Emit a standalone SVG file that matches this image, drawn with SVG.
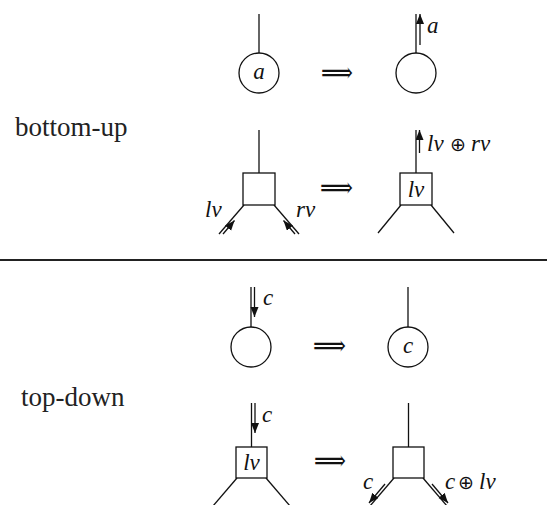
<svg xmlns="http://www.w3.org/2000/svg" width="547" height="505" viewBox="0 0 547 505">
<style>
.e{stroke:#111;stroke-width:1.3;fill:none}
.n{stroke:#111;stroke-width:1.3;fill:#fff}
.a{stroke:#111;stroke-width:1.3;fill:none;marker-end:url(#ah)}
.t{font-size:27px;fill:#222}
.m{font-style:italic;font-size:23px;fill:#111}
.o{font-size:19px;fill:#111}
.imp{font-size:28px;fill:#111}
</style>
<defs>
<marker id="ah" markerUnits="userSpaceOnUse" markerWidth="11" markerHeight="9" refX="10" refY="4" orient="auto">
<path d="M0,0 L10,4 L0,8 z" fill="#111"/>
</marker>
</defs>
<g font-family="Liberation Serif, Times New Roman, serif">
<text class="t" x="15" y="136">bottom-up</text>
<text class="t" x="21" y="406">top-down</text>
</g>
<line x1="0" y1="260" x2="547" y2="260" stroke="#222" stroke-width="2"/>
<g font-family="DejaVu Serif, DejaVu Sans, sans-serif">
<g id="imp1"><text class="imp" x="321" y="82" textLength="32" lengthAdjust="spacingAndGlyphs">⟹</text></g>
<g id="imp2"><text class="imp" x="320" y="197" textLength="33" lengthAdjust="spacingAndGlyphs">⟹</text></g>
<g id="imp3"><text class="imp" x="313" y="355" textLength="33" lengthAdjust="spacingAndGlyphs">⟹</text></g>
<g id="imp4"><text class="imp" x="314" y="470" textLength="32" lengthAdjust="spacingAndGlyphs">⟹</text></g>
</g>
<g id="connectors">
<line class="e" x1="259" y1="14" x2="259" y2="53"/>
<line class="e" x1="416" y1="14" x2="416" y2="53"/>
<line class="a" x1="420" y1="45" x2="420" y2="14"/>
<line class="e" x1="259" y1="130" x2="259" y2="173"/>
<line class="e" x1="244" y1="205" x2="219" y2="234"/>
<line class="e" x1="274" y1="205" x2="299" y2="234"/>
<line class="a" x1="223" y1="234" x2="234.5" y2="220.5"/>
<line class="a" x1="295" y1="234" x2="283.5" y2="220.5"/>
<line class="e" x1="416" y1="130" x2="416" y2="173"/>
<line class="a" x1="419.5" y1="153" x2="419.5" y2="130"/>
<line class="e" x1="401" y1="205" x2="378" y2="233"/>
<line class="e" x1="431" y1="205" x2="454" y2="233"/>
<line class="e" x1="251" y1="287" x2="251" y2="327"/>
<line class="a" x1="254.5" y1="287" x2="254.5" y2="317"/>
<line class="e" x1="408" y1="287" x2="408" y2="327"/>
<line class="e" x1="251.5" y1="403" x2="251.5" y2="447"/>
<line class="a" x1="255" y1="403" x2="255" y2="433"/>
<line class="e" x1="237" y1="478" x2="213" y2="506"/>
<line class="e" x1="266" y1="478" x2="290" y2="506"/>
<line class="e" x1="408.5" y1="403" x2="408.5" y2="447"/>
<line class="e" x1="394" y1="478" x2="370" y2="506"/>
<line class="e" x1="423" y1="478" x2="447" y2="506"/>
<line class="a" x1="385" y1="484" x2="369" y2="503"/>
<line class="a" x1="432" y1="484" x2="448" y2="503"/>
</g>
<g font-family="Liberation Serif, Times New Roman, serif">
<g id="bu-leaf-before">
<circle class="n" cx="259" cy="73" r="20"/>
<text class="m" x="259" y="79" text-anchor="middle">a</text>
</g>
<g id="bu-leaf-after">
<circle class="n" cx="416" cy="73" r="20"/>
<text class="m" x="427" y="33">a</text>
</g>
<g id="bu-node-before">
<rect class="n" x="243" y="173" width="32" height="32"/>
<text class="m" x="205" y="217">lv</text>
<text class="m" x="296" y="217">rv</text>
</g>
<g id="bu-node-after">
<rect class="n" x="400" y="173" width="32" height="32"/>
<text class="m" x="416" y="197" text-anchor="middle">lv</text>
<text x="427" y="151"><tspan class="m">lv</tspan><tspan class="o" font-family="DejaVu Sans, sans-serif" x="450">⊕</tspan><tspan class="m" x="471">rv</tspan></text>
</g>
<g id="td-leaf-before">
<circle class="n" cx="251" cy="347" r="20"/>
<text class="m" x="263" y="305">c</text>
</g>
<g id="td-leaf-after">
<circle class="n" cx="408" cy="347" r="20"/>
<text class="m" x="408" y="353" text-anchor="middle">c</text>
</g>
<g id="td-node-before">
<rect class="n" x="236" y="447" width="31" height="31"/>
<text class="m" x="251.5" y="470" text-anchor="middle">lv</text>
<text class="m" x="262" y="422">c</text>
</g>
<g id="td-node-after">
<rect class="n" x="393" y="447" width="31" height="31"/>
<text class="m" x="363" y="489">c</text>
<text x="445" y="489"><tspan class="m">c</tspan><tspan class="o" font-family="DejaVu Sans, sans-serif" x="458">⊕</tspan><tspan class="m" x="479">lv</tspan></text>
</g>
</g>
</svg>
